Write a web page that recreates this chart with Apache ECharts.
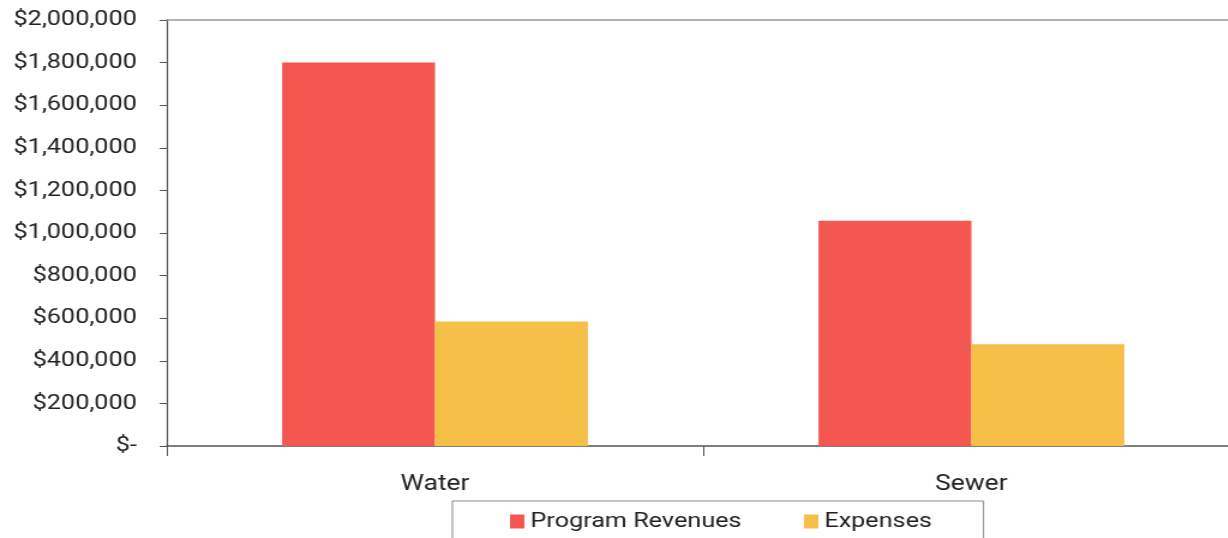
<!DOCTYPE html>
<html>
<head>
<meta charset="utf-8">
<script src="https://cdn.jsdelivr.net/npm/echarts@6/dist/echarts.min.js"></script>
<style>
  html, body { margin: 0; padding: 0; background: #fff; overflow: hidden; }
  /* The chart is laid out in a narrower box and widened horizontally,
     giving the broad lettering and wide bars of the printed figure.
     The box runs a little past the right edge, so the last category is cut off. */
  #chart { width: 1033px; height: 538px; transform: scaleX(1.2); transform-origin: 0 0; }
</style>
</head>
<body>
<div id="chart"></div>
<script>
const categories = ['Water', 'Sewer'];
const seriesNames = ['Program Revenues', 'Expenses'];
const programRevenues = [1800000, 1057000];
const expenses = [585000, 478000];
const yTicks = { min: 0, max: 2000000, interval: 200000 };

function money(v) {
  if (v === 0) return '$-';
  return '$' + v.toLocaleString('en-US');
}

const chart = echarts.init(document.getElementById('chart'));
const font = 'Roboto';
const ink = '#222';

chart.setOption({
  animation: false,
  backgroundColor: '#fff',
  textStyle: { fontFamily: font },
  grid: { left: 139, right: 0, top: 20, bottom: 92, containLabel: false },
  legend: {
    data: seriesNames,
    left: 377,
    top: 501,
    padding: [10, 43, 20, 48],
    itemGap: 52,
    itemWidth: 12,
    itemHeight: 14,
    borderColor: '#8a8a8a',
    borderWidth: 1,
    icon: 'rect',
    textStyle: { fontFamily: font, fontSize: 21, color: ink }
  },
  xAxis: [
    {
      type: 'category',
      data: categories,
      position: 'bottom',
      axisLine: { lineStyle: { color: '#555', width: 1.5 } },
      axisTick: { show: true, length: 10, alignWithLabel: false, lineStyle: { color: '#555', width: 1 } },
      axisLabel: { fontFamily: font, fontSize: 22, color: ink, margin: 27 },
      splitLine: { show: false }
    },
    {
      type: 'category',
      data: categories,
      position: 'top',
      axisLine: { lineStyle: { color: '#9a9a9a', width: 1.5 } },
      axisTick: { show: false },
      axisLabel: { show: false }
    }
  ],
  yAxis: {
    type: 'value',
    min: yTicks.min,
    max: yTicks.max,
    interval: yTicks.interval,
    axisLine: { show: true, lineStyle: { color: '#555', width: 1.2 } },
    axisTick: { show: true, length: 6, lineStyle: { color: '#555' } },
    splitLine: { show: false },
    axisLabel: {
      fontFamily: font, fontSize: 21, color: ink, margin: 25,
      padding: [6, 0, 0, 0],
      formatter: money
    }
  },
  series: [
    {
      name: seriesNames[0],
      type: 'bar',
      data: programRevenues,
      barGap: '0%',
      barCategoryGap: '43%',
      itemStyle: { color: '#F4574F' }
    },
    {
      name: seriesNames[1],
      type: 'bar',
      data: expenses,
      barGap: '0%',
      barCategoryGap: '43%',
      itemStyle: { color: '#F5BF48' }
    }
  ]
});
</script>
</body>
</html>
